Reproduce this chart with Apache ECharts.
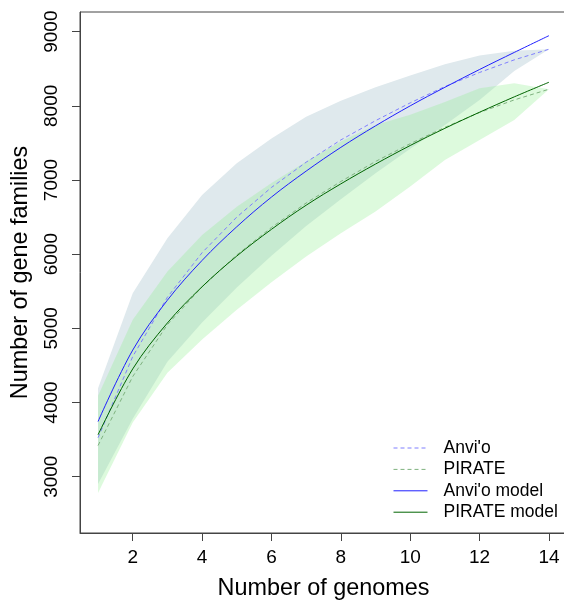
<!DOCTYPE html>
<html>
<head>
<meta charset="utf-8">
<script src="https://cdn.jsdelivr.net/npm/echarts@6/dist/echarts.min.js"></script>
<style>
html,body{margin:0;padding:0;background:#fff;}
#chart{width:564px;height:600px;}
</style>
</head>
<body>
<div id="chart"></div>
<script>
const genomes = [1,2,3,4,5,6,7,8,9,10,11,12,13,14];
const anvioMean = [3525,4620,5420,6020,6500,6900,7240,7540,7800,8040,8260,8450,8620,8763];
const pirateMean = [3420,4350,5050,5560,5990,6360,6690,6980,7250,7490,7710,7910,8080,8224];
const anvioModel = [3744,4707,5380,5916,6370,6770,7120,7440,7730,8000,8250,8490,8720,8946];
const pirateModel = [3565,4453,5073,5561,5975,6335,6660,6948,7215,7465,7697,7914,8121,8318];
const anvioLow = [2900,3780,4550,5080,5550,5980,6380,6740,7090,7420,7740,8080,8470,8763];
const anvioHigh = [4194,5474,6216,6799,7226,7560,7854,8070,8250,8410,8560,8680,8744,8763];
const pirateLow = [2780,3730,4400,4850,5250,5620,5968,6283,6574,6911,7271,7540,7810,8224];
const pirateHigh = [4090,5115,5766,6260,6641,6960,7250,7520,7740,7880,8050,8237,8305,8224];
const xTicks = [2,4,6,8,10,12,14];
const yTicks = [3000,4000,5000,6000,7000,8000,9000];

const pairs = arr => genomes.map((g,i)=>[g, arr[i]]);
const bandData = (lo, hi) => genomes.map((g,i)=>[g, lo[i], hi[i]]);

const FONT = '"Liberation Sans", Arial, sans-serif';
const AX = '#444';

function band(name, lo, hi, color){
  return {
    name, type:'custom', silent:true, z:1,
    data: bandData(lo, hi),
    encode:{x:0, y:[1,2]},
    renderItem: function(params, api){
      if (params.dataIndex !== 0) return null;
      const upper = [], lower = [];
      for (let i = 0; i < genomes.length; i++){
        upper.push(api.coord([genomes[i], hi[i]]));
        lower.push(api.coord([genomes[i], lo[i]]));
      }
      const pts = upper.concat(lower.reverse());
      return {type:'polygon', shape:{points:pts}, style:{fill:color, stroke:null}};
    }
  };
}
function line(name, arr, color, dashed, smooth){
  return {name, type:'line', data:pairs(arr), symbol:'none', smooth: smooth ? 0.35 : false,
    lineStyle:{color, width:1, type: dashed ? [4,3] : 'solid'}, itemStyle:{color}, z:3};
}

const chart = echarts.init(document.getElementById('chart'), null, {renderer:'canvas'});
chart.setOption({
  animation:false,
  backgroundColor:'#fff',
  textStyle:{fontFamily:FONT},
  grid:{left:80, top:12, width:487, height:521, containLabel:false, outerBoundsMode:'none',
    show:true, borderColor:AX, borderWidth:1, backgroundColor:'transparent'},
  legend:{
    data:["Anvi'o","PIRATE","Anvi'o model","PIRATE model"],
    orient:'vertical', left:393, top:439, padding:0,
    itemWidth:34, itemHeight:14, itemGap:3.4,
    itemStyle:{opacity:0},
    lineStyle:{width:1},
    textStyle:{fontFamily:FONT, fontSize:17.5, color:'#000', padding:[0,0,0,11]},
    selectedMode:false
  },
  xAxis:{
    type:'value', min:0.48, max:14.52,
    name:'Number of genomes', nameLocation:'middle', nameGap:44,
    nameTextStyle:{fontFamily:FONT, fontSize:23.4, color:'#000'},
    axisLine:{show:true, lineStyle:{color:AX, width:1}},
    axisTick:{show:true, length:8, lineStyle:{color:AX}, customValues:xTicks},
    axisLabel:{customValues:xTicks, fontSize:19, color:'#000', margin:15, fontFamily:FONT},
    splitLine:{show:false}
  },
  yAxis:{
    type:'value', min:2241, max:9265,
    name:'Number of gene families', nameLocation:'middle', nameGap:48,
    nameTextStyle:{fontFamily:FONT, fontSize:23.4, color:'#000'},
    axisLine:{show:true, lineStyle:{color:AX, width:1}},
    axisTick:{show:true, length:8, lineStyle:{color:AX}, customValues:yTicks},
    axisLabel:{customValues:yTicks, fontSize:19, color:'#000', margin:19, rotate:90, fontFamily:FONT,
      formatter: v => String(v)},
    splitLine:{show:false}
  },
  series:[
    band('anvioBand', anvioLow, anvioHigh, '#dfe9ed'),
    band('pirateBand', pirateLow, pirateHigh, 'rgba(144,238,144,0.3)'),
    line("Anvi'o", anvioMean, '#7f7fff', true, false),
    line('PIRATE', pirateMean, '#7fb27f', true, false),
    line("Anvi'o model", anvioModel, '#1f1fff', false, true),
    line('PIRATE model', pirateModel, '#006400', false, true)
  ]
});
</script>
</body>
</html>
